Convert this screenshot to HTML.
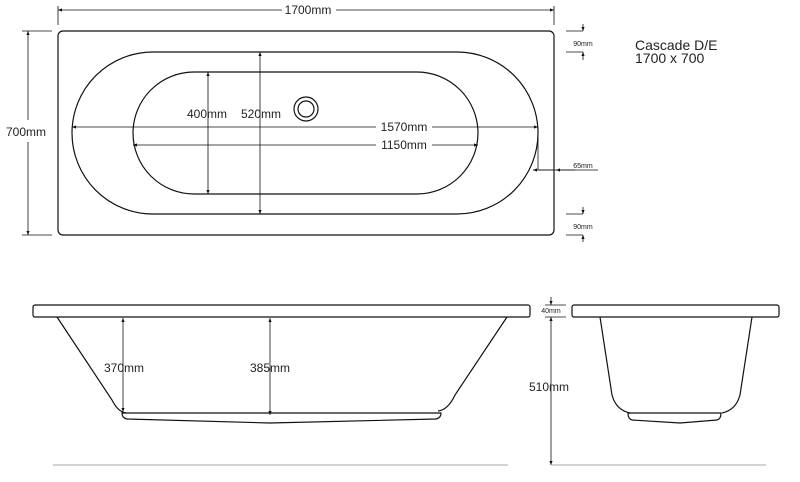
<!DOCTYPE html>
<html><head><style>
html,body{margin:0;padding:0;background:#fff;}
svg{display:block;}
text{font-family:"Liberation Sans",sans-serif;fill:#222;}
</style></head><body>
<svg width="800" height="482" viewBox="0 0 800 482" xmlns="http://www.w3.org/2000/svg">
<defs>
<marker id="a" viewBox="0 0 10 10" refX="10" refY="5" markerWidth="7" markerHeight="5" orient="auto-start-reverse"><path d="M0,1 L10,5 L0,9 z" fill="#111"/></marker>
</defs>
<g fill="none" stroke="#111" stroke-width="1.2">
<rect x="58" y="31" width="496" height="204" rx="5"/>
<path d="M153,52 H457 A81,81 0 0 1 457,214 H153 A81,81 0 0 1 153,52 Z"/>
<path d="M194,72 H417 A61,61 0 0 1 417,194 H194 A61,61 0 0 1 194,72 Z"/>
<circle cx="306" cy="109" r="12"/>
<circle cx="306" cy="109" r="8"/>
</g>
<g stroke="#111" stroke-width="0.8" fill="none">
<line x1="58" y1="10" x2="282" y2="10" marker-start="url(#a)"/>
<line x1="336" y1="10" x2="554" y2="10" marker-end="url(#a)"/>
<line x1="58" y1="6" x2="58" y2="25"/><line x1="554" y1="6" x2="554" y2="25"/>
<line x1="28" y1="31" x2="28" y2="120" marker-start="url(#a)"/>
<line x1="28" y1="142" x2="28" y2="235" marker-end="url(#a)"/>
<line x1="22" y1="31" x2="52" y2="31"/><line x1="22" y1="235" x2="52" y2="235"/>
<line x1="208" y1="72" x2="208" y2="194" marker-start="url(#a)" marker-end="url(#a)"/>
<line x1="260" y1="52" x2="260" y2="214" marker-start="url(#a)" marker-end="url(#a)"/>
<line x1="72" y1="127" x2="376" y2="127" marker-start="url(#a)"/>
<line x1="432" y1="127" x2="538" y2="127" marker-end="url(#a)"/>
<line x1="133" y1="145" x2="376" y2="145" marker-start="url(#a)"/>
<line x1="432" y1="145" x2="478" y2="145" marker-end="url(#a)"/>
<line x1="538" y1="127" x2="538" y2="170"/>
<line x1="538" y1="170" x2="598" y2="170"/>
<line x1="554" y1="170" x2="533" y2="170" marker-end="url(#a)"/>
<line x1="575" y1="170" x2="556" y2="170" marker-end="url(#a)"/>
<line x1="566" y1="31" x2="583" y2="31"/><line x1="566" y1="52" x2="583" y2="52"/>
<line x1="583" y1="24" x2="583" y2="31" marker-end="url(#a)"/>
<line x1="583" y1="60" x2="583" y2="52" marker-end="url(#a)"/>
<line x1="566" y1="214" x2="583" y2="214"/><line x1="566" y1="235" x2="583" y2="235"/>
<line x1="583" y1="207" x2="583" y2="214" marker-end="url(#a)"/>
<line x1="583" y1="242" x2="583" y2="235" marker-end="url(#a)"/>
</g>
<text x="308" y="14" font-size="12" text-anchor="middle">1700mm</text>
<text x="26" y="136" font-size="12" text-anchor="middle">700mm</text>
<text x="207" y="118" font-size="12" text-anchor="middle">400mm</text>
<text x="261" y="118" font-size="12" text-anchor="middle">520mm</text>
<text x="404" y="131" font-size="12" text-anchor="middle">1570mm</text>
<text x="404" y="149" font-size="12" text-anchor="middle">1150mm</text>
<text x="583" y="46" font-size="7" text-anchor="middle">90mm</text>
<text x="583" y="229" font-size="7" text-anchor="middle">90mm</text>
<text x="583" y="168" font-size="7" text-anchor="middle">65mm</text>
<text x="635" y="50" font-size="14">Cascade D/E</text>
<text x="635" y="63" font-size="14">1700 x 700</text>
<g fill="none" stroke="#111" stroke-width="1.2">
<rect x="33" y="305" width="497" height="12" rx="2"/>
<path d="M57,317 L112,400 Q118,412 126,413"/>
<path d="M507,317 L455,395 Q448,410 438,411"/>
<path d="M122,413 H441 Q441,418 436,419 L270,423 L127,419 Q122,418 122,413 Z"/>
<rect x="572" y="305" width="207" height="12" rx="2"/>
<path d="M600,317 L612,395 Q616,410 630,413"/>
<path d="M752,317 L740,395 Q736,410 722,413"/>
<path d="M628,413 H721 Q721,419 717,420 L680,423 L632,420 Q628,419 628,413 Z"/>
</g>
<g stroke="#111" stroke-width="0.8" fill="none">
<line x1="123" y1="318" x2="123" y2="412" marker-start="url(#a)" marker-end="url(#a)"/>
<line x1="270" y1="318" x2="270" y2="415" marker-start="url(#a)" marker-end="url(#a)"/>
<line x1="551" y1="317" x2="551" y2="465" marker-start="url(#a)" marker-end="url(#a)"/>
<line x1="551" y1="297" x2="551" y2="305" marker-end="url(#a)"/>
<line x1="545" y1="305" x2="566" y2="305"/><line x1="545" y1="317" x2="566" y2="317"/>
</g>
<g stroke="#aaa" stroke-width="1">
<line x1="53" y1="465" x2="508" y2="465"/>
<line x1="551" y1="465" x2="766" y2="465"/>
</g>
<text x="124" y="372" font-size="12" text-anchor="middle">370mm</text>
<text x="270" y="372" font-size="12" text-anchor="middle">385mm</text>
<text x="549" y="391" font-size="12" text-anchor="middle">510mm</text>
<text x="551" y="313" font-size="7" text-anchor="middle">40mm</text>
</svg>
</body></html>
